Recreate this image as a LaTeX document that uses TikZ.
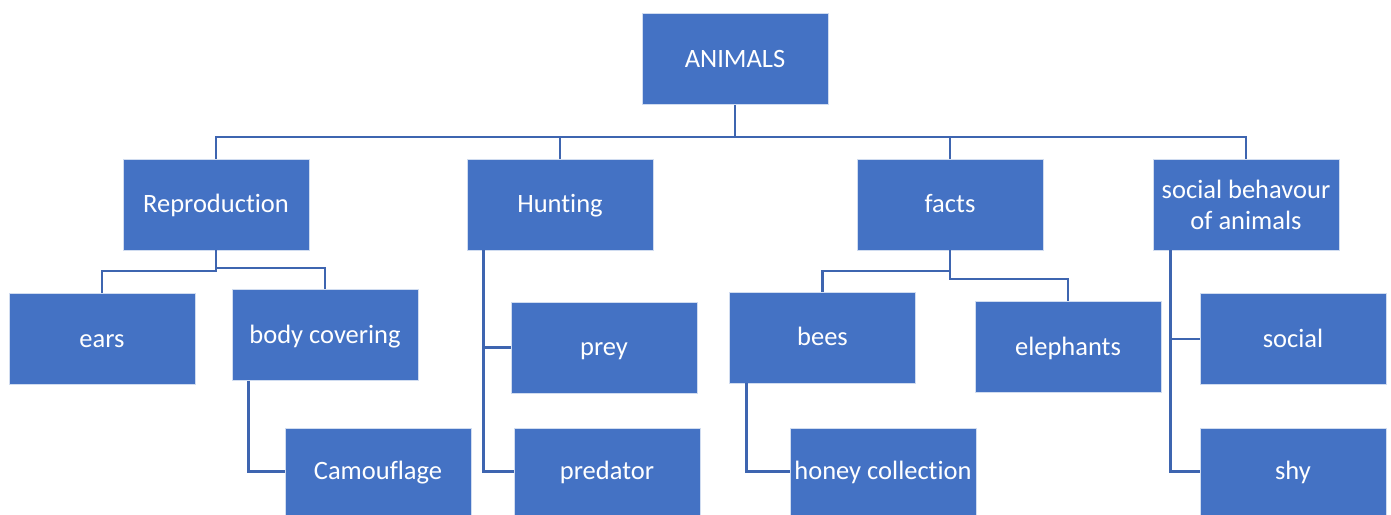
\documentclass[tikz,border=0pt]{standalone}
\usepackage{fontspec}
\setmainfont{Carlito}[Ligatures=NoCommon]
\definecolor{boxblue}{HTML}{4472C4}
\definecolor{linkblue}{HTML}{3E65B0}
\begin{document}
\begin{tikzpicture}[x=1pt,y=-1pt,
  boxbase/.style={rectangle, fill=boxblue, draw=white!75!boxblue, line width=0.8pt,
    minimum width=186pt, minimum height=91pt, text=white,
    font=\fontsize{26.5}{31}\selectfont, inner sep=0pt},
  box/.style={boxbase, text height=21pt, text depth=5pt},
  twoline/.style={boxbase, align=center},
  lowbox/.style={box, minimum height=87pt},
  link/.style={draw=linkblue, line width=2.8pt}]
\useasboundingbox (0,0) rectangle (1391,514);
% nodes
\node[box] (animals) at (735,59) {ANIMALS};
\node[box] (repro) at (216,204.5) {Reproduction};
\node[box] (hunting) at (560,204.5) {Hunting};
\node[box] (facts) at (950,204.5) {facts};
\node[twoline] (socialb) at (1246,204.5) {social behavour\\of animals};
\node[box] (ears) at (102,339) {ears};
\node[box] (body) at (325,335) {body covering};
\node[lowbox] (camo) at (378,471.5) {Camouflage};
\node[box] (prey) at (604,347.5) {prey};
\node[lowbox] (predator) at (607,471.5) {predator};
\node[box] (bees) at (822.5,337.5) {bees};
\node[box] (eleph) at (1068,347) {elephants};
\node[lowbox] (honey) at (883,471.5) {honey collection};
\node[box] (social) at (1293,339) {social};
\node[lowbox] (shy) at (1293,471.5) {shy};
% connectors
\coordinate (bus) at (735,137);
\draw[link] (animals.south) -- (bus);
\draw[link] (bus) -| (repro.north);
\draw[link] (bus) -| (hunting.north);
\draw[link] (bus) -| (facts.north);
\draw[link] (bus) -| (socialb.north);
\coordinate (rjL) at (216,271);
\coordinate (rjR) at (216,268);
\draw[link] (repro.south) -- (rjL) -| (ears.north);
\draw[link] (rjR) -| (body.north);
\draw[link] ([xshift=17pt]body.south west) |- (camo.west);
\draw[link] ([xshift=17pt]hunting.south west) |- (prey.west);
\draw[link] ([xshift=17pt]hunting.south west) |- (predator.west);
\coordinate (fjL) at (950,271);
\coordinate (fjR) at (950,279);
\draw[link] (facts.south) -- (fjR) -| (eleph.north);
\draw[link] (fjL) -| (bees.north);
\draw[link] ([xshift=17pt]bees.south west) |- (honey.west);
\draw[link] ([xshift=18pt]socialb.south west) |- (social.west);
\draw[link] ([xshift=18pt]socialb.south west) |- (shy.west);
\end{tikzpicture}
\end{document}
